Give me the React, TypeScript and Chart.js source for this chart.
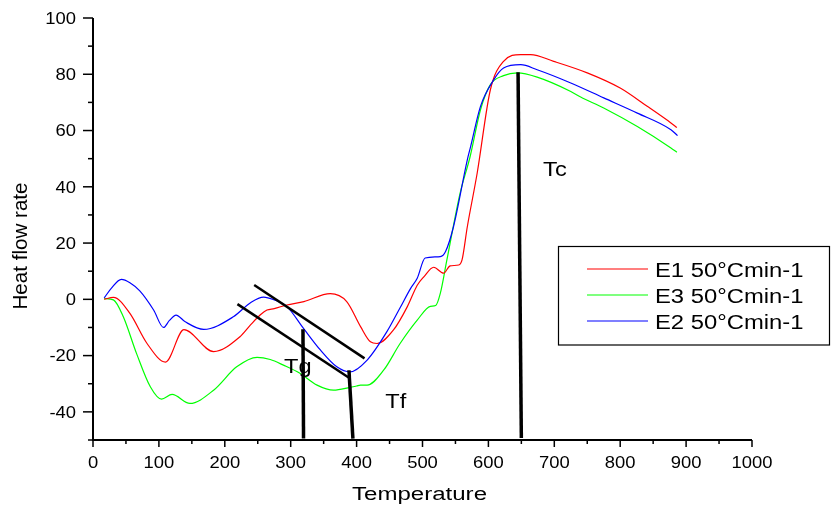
import React, { useEffect, useRef } from 'react';
import { Chart, registerables } from 'chart.js';
Chart.register(...registerables);

// ---- data (Temperature vs Heat flow rate) ----
const e1T = [17, 31, 56, 82, 110, 138, 183, 223, 239, 254, 264, 275, 294, 320, 360, 385, 406, 421, 431, 456, 477, 492, 502, 517, 532, 542, 555, 560, 568, 583, 603, 623, 649, 664, 699, 750, 800, 841, 877, 886];
const e1V = [0, 0.7, -5, -15.7, -22.3, -10.8, -18.6, -13.3, -9.1, -5.5, -3.8, -3.3, -2, -0.8, 2, -0.8, -9.7, -15.1, -15.7, -10.9, -2.6, 5, 8, 11.4, 9.3, 11.9, 12.2, 14, 25.8, 44.9, 74.5, 84.6, 87, 87, 84.6, 80.5, 75.1, 68.6, 62.7, 61.1];

const e3T = [17, 31, 46, 66, 87, 104, 120, 147, 183, 218, 249, 269, 289, 314, 340, 365, 390, 400, 406, 416, 441, 466, 492, 512, 520, 527, 537, 557, 572, 588, 603, 623, 644, 674, 725, 740, 775, 826, 877, 886];
const e3V = [0.3, -0.2, -6.2, -19.2, -31.1, -35.5, -33.8, -37, -32.3, -24, -20.6, -21.4, -23.4, -26.3, -30.5, -32.3, -31.3, -30.8, -30.5, -30.5, -25.2, -15.7, -7.4, -2.5, -2.2, 2.1, 14, 37.7, 50.5, 67.4, 76.3, 79.5, 80.5, 79, 73.9, 71.9, 68, 61.4, 53.8, 52.3];

const e2T = [17, 28, 43, 56, 71, 92, 107, 116, 126, 140, 168, 213, 240, 259, 275, 294, 320, 345, 370, 390, 416, 446, 466, 482, 492, 504, 527, 535, 547, 568, 573, 588, 608, 623, 649, 674, 725, 775, 826, 877, 887];
const e2V = [0.5, 4, 7.1, 5.9, 3.0, -3.8, -10, -7.5, -5.6, -8, -10.7, -6.2, -1, 0.8, -0.2, -2.5, -10.5, -18, -24, -25.8, -21.6, -11.5, -3, 3.9, 7.5, 14.7, 15.2, 17, 25.8, 49.6, 54.3, 68.6, 78, 82.2, 83.4, 81.6, 76.9, 71.6, 66.2, 60.3, 58.2];

// annotation lines (Tg, Tf, Tc markers and tangents)
const tgT = [318.6, 319.5];
const tgV = [-10.6, -49.5];
const tfT = [388.4, 394.4];
const tfV = [-25.2, -49.5];
const tcT = [645, 650];
const tcV = [80.7, -49.3];
const tan1T = [244.6, 412];
const tan1V = [5.1, -21];
const tan2T = [219.2, 387.9];
const tan2V = [-1.7, -27.8];

const annoText = ['Tg', 'Tf', 'Tc'];
const annoT = [290, 443.6, 683];
const annoV = [-26.1, -38.5, 43.7];

const xTickVals = [0, 100, 200, 300, 400, 500, 600, 700, 800, 900, 1000];
const yTickVals = [-40, -20, 0, 20, 40, 60, 80, 100];
const legendLabels = ['E1 50°Cmin-1', 'E3 50°Cmin-1', 'E2 50°Cmin-1'];
const seriesColors = ['#ff0000', '#00ff00', '#0000ff'];

const FONT = '"Liberation Sans", Arial, sans-serif';

function pts(t: number[], v: number[]) {
  return t.map((x, i) => ({ x, y: v[i] }));
}

function drawText(ctx: CanvasRenderingContext2D, text: string, x: number, y: number, size: number, sx: number, align: 'left' | 'center' | 'right', targetW?: number) {
  ctx.save();
  ctx.font = `${size}px ${FONT}`;
  ctx.textBaseline = 'alphabetic';
  ctx.textAlign = 'left';
  const raw = ctx.measureText(text).width;
  const s = targetW ? targetW / raw : sx;
  const w = raw * s;
  const left = align === 'center' ? x - w / 2 : align === 'right' ? x - w : x;
  ctx.translate(left, y);
  ctx.scale(s, 1);
  ctx.fillStyle = '#000';
  ctx.fillText(text, 0, 0);
  ctx.restore();
}

const decorPlugin = {
  id: 'decor',
  afterDatasetsDraw(chart: any) {
    const ctx: CanvasRenderingContext2D = chart.ctx;
    const xs = chart.scales.x;
    const ys = chart.scales.y;
    const { left, right, top, bottom } = chart.chartArea;
    ctx.save();
    ctx.strokeStyle = '#000';
    ctx.lineWidth = 2;
    // axes lines
    ctx.beginPath();
    ctx.moveTo(left, top);
    ctx.lineTo(left, bottom + 1);
    ctx.moveTo(left - 1, bottom);
    ctx.lineTo(right, bottom);
    ctx.stroke();
    // ticks
    ctx.lineWidth = 1.5;
    for (let v = 0; v <= 1000; v += 50) {
      const px = xs.getPixelForValue(v);
      const len = v % 100 === 0 ? 7 : 4;
      ctx.beginPath();
      ctx.moveTo(px, bottom);
      ctx.lineTo(px, bottom + len);
      ctx.stroke();
    }
    for (let v = -50; v <= 100; v += 10) {
      const py = ys.getPixelForValue(v);
      const len = v % 20 === 0 ? 10 : 5;
      ctx.beginPath();
      ctx.moveTo(left, py);
      ctx.lineTo(left - len, py);
      ctx.stroke();
    }
    // tick labels
    xTickVals.forEach((v) => {
      drawText(ctx, String(v), xs.getPixelForValue(v), bottom + 28, 16, 1.15, 'center');
    });
    yTickVals.forEach((v) => {
      drawText(ctx, String(v), left - 17, ys.getPixelForValue(v) + 5.8, 16, 1.15, 'right');
    });
    // axis titles
    drawText(ctx, 'Temperature', 419.5, bottom + 60, 18, 1.15, 'center', 135);
    ctx.save();
    ctx.translate(27, 246);
    ctx.rotate(-Math.PI / 2);
    drawText(ctx, 'Heat flow rate', 0, 0, 20, 1, 'center', 127);
    ctx.restore();
    // annotation texts
    annoText.forEach((t, i) => {
      drawText(ctx, t, xs.getPixelForValue(annoT[i]), ys.getPixelForValue(annoV[i]), 20, 1.18, 'left');
    });
    // legend box
    ctx.lineWidth = 1.2;
    ctx.strokeStyle = '#000';
    ctx.strokeRect(558.5, 246.5, 271, 98.5);
    legendLabels.forEach((lab, i) => {
      const y = 269 + i * 26;
      ctx.strokeStyle = seriesColors[i];
      ctx.lineWidth = 1.2;
      ctx.beginPath();
      ctx.moveTo(587, y);
      ctx.lineTo(648, y);
      ctx.stroke();
      drawText(ctx, lab, 655, y + 7.5, 20, 1.19, 'left');
    });
    ctx.restore();
  },
};

export default function App() {
  const ref = useRef<HTMLCanvasElement | null>(null);
  useEffect(() => {
    if (!ref.current) return;
    const blackLine = (t: number[], v: number[], w: number) => ({
      data: pts(t, v),
      borderColor: '#000',
      borderWidth: w,
      pointRadius: 0,
      tension: 0,
      borderCapStyle: 'butt' as const,
    });
    const curve = (t: number[], v: number[], c: string) => ({
      data: pts(t, v),
      borderColor: c,
      borderWidth: 1.2,
      pointRadius: 0,
      cubicInterpolationMode: 'monotone' as const,
    });
    const chart = new Chart(ref.current, {
      type: 'line',
      data: {
        datasets: [
          blackLine(tgT, tgV, 3.5),
          blackLine(tfT, tfV, 3.5),
          blackLine(tcT, tcV, 3.5),
          blackLine(tan1T, tan1V, 2.5),
          blackLine(tan2T, tan2V, 2.5),
          curve(e2T, e2V, seriesColors[2]),
          curve(e1T, e1V, seriesColors[0]),
          curve(e3T, e3V, seriesColors[1]),
        ] as any,
      },
      options: {
        responsive: false,
        animation: false,
        devicePixelRatio: 1,
        layout: { padding: { left: 93, right: 79, top: 18, bottom: 67 } },
        plugins: { legend: { display: false }, tooltip: { enabled: false }, title: { display: false } },
        scales: {
          x: { type: 'linear', min: 0, max: 1000, display: false },
          y: { type: 'linear', min: -50, max: 100, display: false },
        },
        events: [],
      },
      plugins: [decorPlugin],
    });
    return () => chart.destroy();
  }, []);
  return (
    <div style={{ position: 'fixed', left: 0, top: 0, width: 831, height: 507, background: '#fff' }}>
      <canvas ref={ref} width={831} height={507} />
    </div>
  );
}
